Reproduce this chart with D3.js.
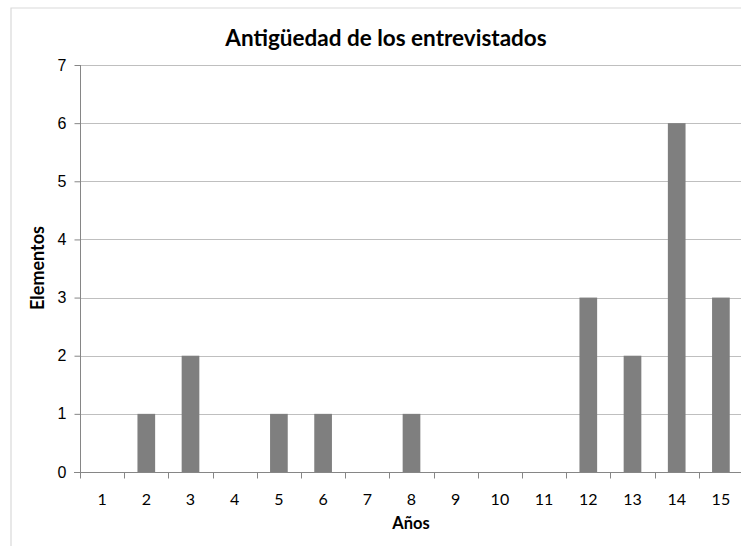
<!DOCTYPE html>
<html>
<head>
<meta charset="utf-8">
<script src="https://cdn.jsdelivr.net/npm/d3@7"></script>
<style>
  body { margin: 0; background: #fff; }
  svg { display: block; font-family: Lato, "Open Sans", sans-serif; }
</style>
</head>
<body>
<div id="chart"></div>
<script>
// Antigüedad de los entrevistados — bar chart
const years    = ['1','2','3','4','5','6','7','8','9','10','11','12','13','14','15'];
const elements = [0, 1, 2, 0, 1, 1, 0, 1, 0, 0, 0, 3, 2, 6, 3];
const yTicks   = [0, 1, 2, 3, 4, 5, 6, 7];

const width = 741, height = 546;
const m = { top: 65, right: -2, bottom: 74, left: 80 };

const svg = d3.select('#chart').append('svg')
  .attr('width', width).attr('height', height);

// chart area border (only top/left visible in the crop)
svg.append('path')
  .attr('d', `M11,${height} L11,8 L${width},8`)
  .attr('fill', 'none').attr('stroke', '#d9d9d9').attr('stroke-width', 1.2);

const x = d3.scaleBand().domain(years)
  .range([m.left, width - m.right]).paddingInner(0.6).paddingOuter(0.3);
const y = d3.scaleLinear().domain([0, 7]).range([height - m.bottom, m.top]);

// gridlines
svg.append('g').selectAll('line').data(yTicks.slice(1)).join('line')
  .attr('x1', m.left).attr('x2', width - m.right)
  .attr('y1', d => Math.round(y(d)) + 0.5).attr('y2', d => Math.round(y(d)) + 0.5)
  .attr('stroke', '#bfbfbf');

// bars
svg.append('g').selectAll('rect').data(years).join('rect')
  .attr('x', d => x(d))
  .attr('width', x.bandwidth())
  .attr('y', (d, i) => y(elements[i]))
  .attr('height', (d, i) => y(0) - y(elements[i]))
  .attr('fill', '#7f7f7f');

// y axis
const yAxis = svg.append('g')
  .attr('transform', `translate(${m.left + 0.5},0)`)
  .call(d3.axisLeft(y).tickValues(yTicks).tickSize(6).tickPadding(8).tickFormat(d3.format('d')));
yAxis.select('.domain').attr('stroke', '#868686').attr('d', `M0,${y(7)}V${y(0)}`);
yAxis.selectAll('.tick line').attr('stroke', '#868686');
yAxis.selectAll('.tick text').attr('font-size', 16).attr('fill', '#000');

// x axis: ticks at band boundaries
const step = x.step();
const x0 = m.left;
const xa = svg.append('g').attr('transform', `translate(0,${Math.round(y(0)) + 0.5})`);
xa.append('line').attr('x1', x0 - 6).attr('x2', width).attr('stroke', '#868686');
xa.selectAll('line.tk').data(d3.range(years.length + 1)).join('line').attr('class', 'tk')
  .attr('x1', i => Math.round(x0 + i * step) + 0.5).attr('x2', i => Math.round(x0 + i * step) + 0.5)
  .attr('y1', 0).attr('y2', 6).attr('stroke', '#868686');
xa.selectAll('text').data(years).join('text')
  .attr('x', d => x(d) + x.bandwidth() / 2)
  .attr('y', 32)
  .attr('text-anchor', 'middle').attr('font-size', 16).attr('fill', '#000')
  .text(d => d);

// titles
svg.append('text').attr('x', 386).attr('y', 46).attr('text-anchor', 'middle')
  .attr('font-size', 22.5).attr('font-weight', 'bold').text('Antigüedad de los entrevistados');
svg.append('text').attr('x', 411).attr('y', 529).attr('text-anchor', 'middle')
  .attr('font-size', 16.5).attr('font-weight', 'bold').text('Años');
svg.append('text').attr('transform', 'translate(44,268) rotate(-90)').attr('text-anchor', 'middle')
  .attr('font-size', 18).attr('font-weight', 'bold').text('Elementos');
</script>
</body>
</html>
